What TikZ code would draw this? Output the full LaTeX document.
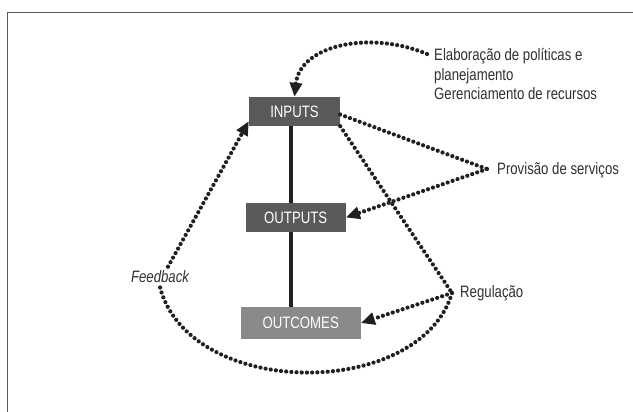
\documentclass[tikz,border=0pt]{standalone}
\usepackage{fontspec}
\setmainfont{Liberation Sans}[FakeStretch=0.8]
\usetikzlibrary{arrows.meta}

\definecolor{boxdark}{HTML}{5A5A5A}
\definecolor{boxlight}{HTML}{8A8A8A}
\definecolor{ink}{HTML}{202020}
\definecolor{txt}{HTML}{303030}
\def\dotgap{5.2pt}

\begin{document}
\begin{tikzpicture}[x=1pt,y=-1pt,font=\fontsize{16.5}{19.5}\selectfont]
    \tikzstyle{stage}=[fill=boxdark, text=white, minimum height=29pt, inner sep=0pt]
    \tikzstyle{note}=[text=txt, inner sep=0pt, align=left]
    \tikzstyle{dotline}=[draw=ink, line width=4.2pt, line cap=round, dash pattern=on 0pt off \dotgap]
    \tikzstyle{tip}=[-{Triangle[length=14pt,width=12pt]}]
    \tikzstyle{spine}=[draw=ink, line width=4pt]

    \useasboundingbox (0,0) rectangle (633,412);
    % frame
    \draw[black!65, line width=1.4pt] (7.5,412) -- (7.5,12.7) -- (633,12.7);

    % stages
    \node[stage, minimum width=91pt] (inputs) at (294.5,111.5) {INPUTS};
    \node[stage, minimum width=100pt] (outputs) at (295.7,217.5) {OUTPUTS};
    \node[stage, fill=boxlight, minimum width=120pt, minimum height=32pt] (outcomes) at (300.7,323) {OUTCOMES};

    \draw[spine] ([xshift=-3.5pt]inputs.south) -- ([xshift=-4.7pt]outputs.north);
    \draw[spine] ([xshift=-4.7pt]outputs.south) -- ([xshift=-9.7pt]outcomes.north);

    % functions
    \node[note, anchor=west] (policy) at (434,74.5) {Elaboração de políticas e\\planejamento\\Gerenciamento de recursos};
    \node[note, anchor=west] (service) at (497,170) {Provisão de serviços};
    \node[note, anchor=west] (regulation) at (460,293) {Regulação};
    \node[note, inner sep=4pt] (feedback) at (160,277) {\itshape Feedback};

    \coordinate (policy-in) at (427,54);
    \coordinate (service-in) at (487,169);
    \coordinate (regulation-in) at (452,293);

    \draw[dotline, tip] (policy-in) .. controls (370,30) and (300,45) .. (inputs.north);
    \draw[dotline] ([yshift=-3pt]inputs.east) -- (service-in);
    \draw[dotline, tip] (service-in) -- (outputs.east);
    \draw[dotline] (inputs.south east) -- (regulation-in);
    \draw[dotline, tip] (regulation-in) -- (outcomes.east);
    \draw[dotline] (regulation-in) .. controls (420,400) and (190,400) .. (feedback.south);
    \draw[dotline, tip] ([xshift=8pt]feedback.north) -- ([yshift=5pt]inputs.south west);
\end{tikzpicture}
\end{document}
